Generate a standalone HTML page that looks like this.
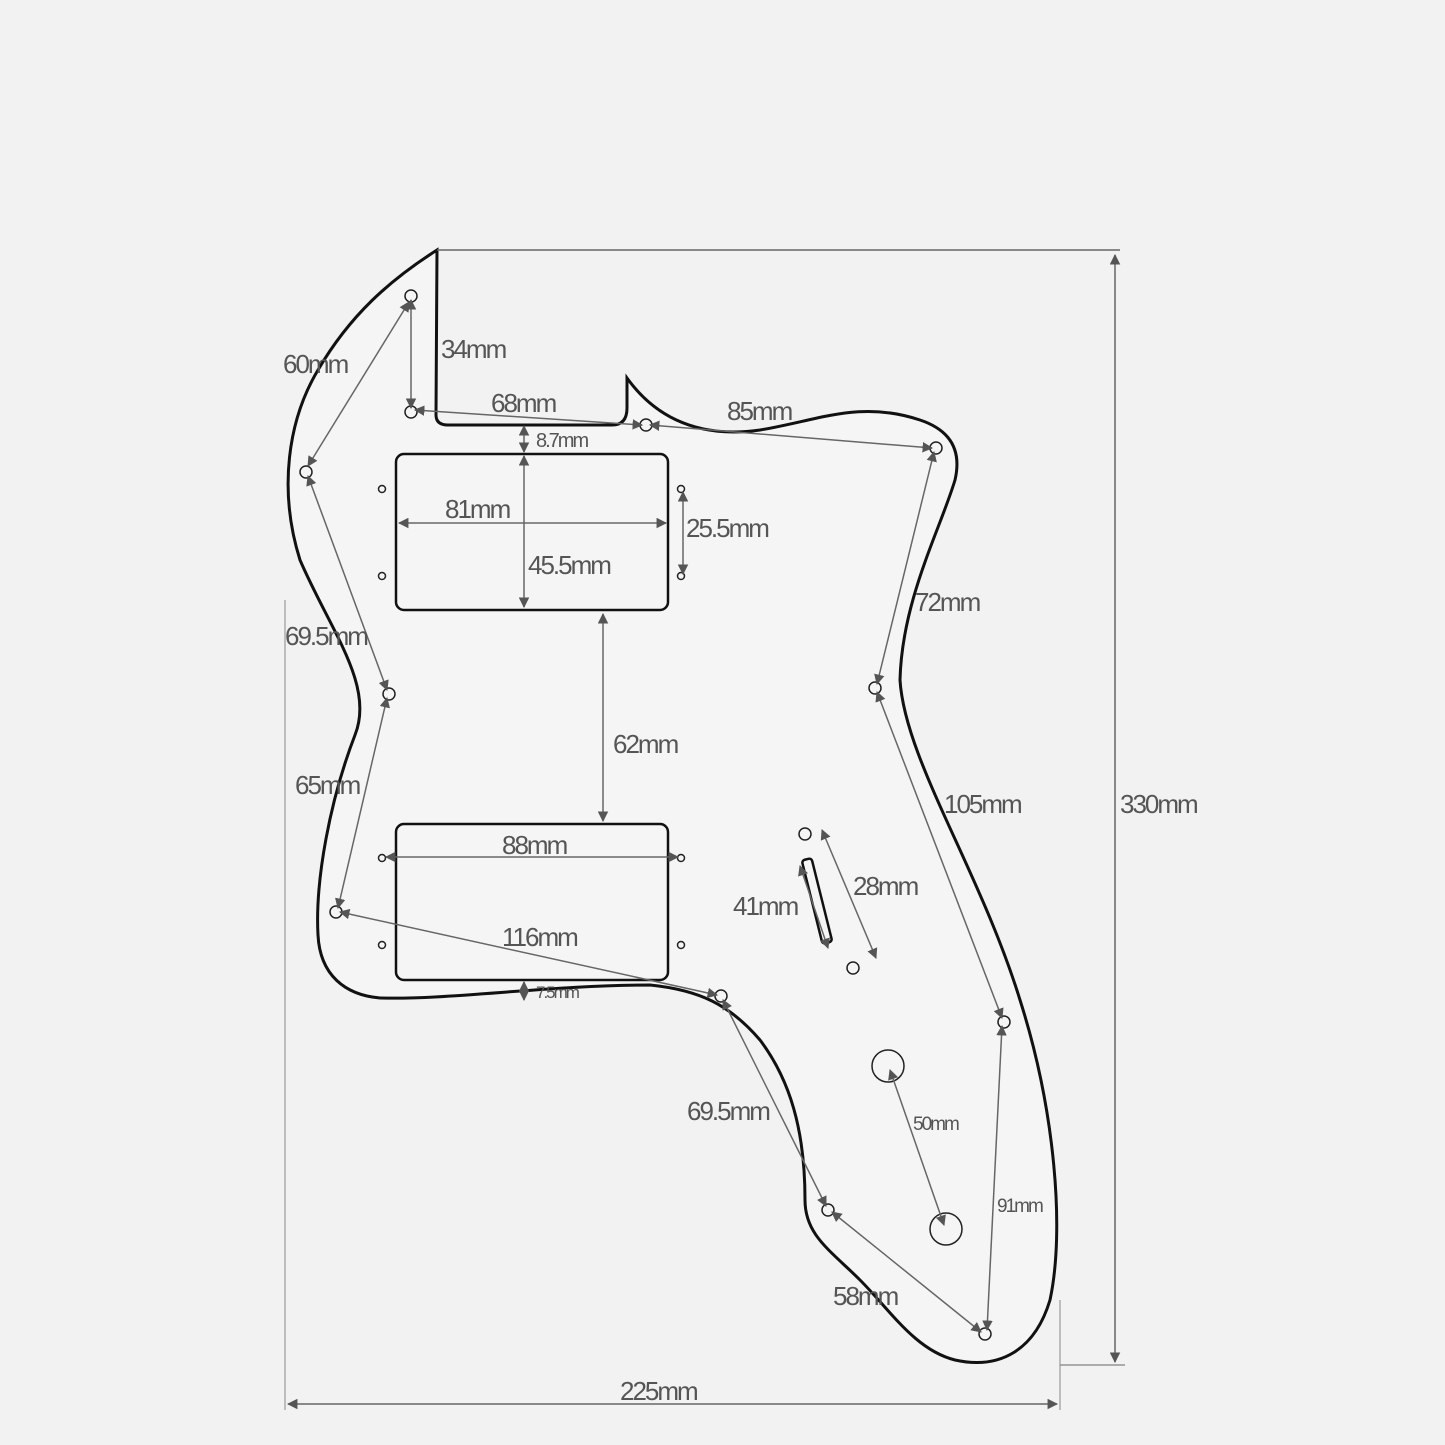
<!DOCTYPE html>
<html><head><meta charset="utf-8"><style>
html,body{margin:0;padding:0;background:#f2f2f2}
svg{display:block}
text{font-family:"Liberation Sans",sans-serif;fill:#555;letter-spacing:-2px}
</style></head><body>
<svg width="1445" height="1445" viewBox="0 0 1445 1445" xmlns="http://www.w3.org/2000/svg">
<defs>
<marker id="a" viewBox="0 0 10 10" refX="9" refY="5" markerWidth="7" markerHeight="7" orient="auto-start-reverse"><path d="M0,0L10,5L0,10z" fill="#555"/></marker>
</defs>
<rect width="1445" height="1445" fill="#f2f2f2"/>
<path d="M437,250 L436,415 Q436,425 448,425 L612,425 Q627,425 627,408 L627,378 C650,410 690,440 760,430 C820,420 860,400 920,420 C950,430 962,450 955,480 C940,530 902,600 900,680 C905,760 980,870 1020,1000 C1055,1110 1065,1230 1050,1300 C1035,1350 1000,1370 955,1360 C915,1350 890,1310 860,1280 C830,1250 805,1235 805,1200 C805,1130 790,1080 760,1040 C730,1005 700,990 650,985 C550,985 450,1000 380,998 C345,995 320,975 318,935 C315,880 330,800 355,735 C375,685 330,630 300,560 C278,490 288,420 318,370 C350,315 390,280 437,250 Z" fill="#f5f5f5" stroke="#111" stroke-width="3"/>
<line x1="437" y1="250" x2="1120" y2="250" stroke="#666" stroke-width="1.5"/>
<line x1="1060" y1="1365" x2="1125" y2="1365" stroke="#666" stroke-width="1"/>
<line x1="285" y1="600" x2="285" y2="1410" stroke="#888" stroke-width="1"/>
<line x1="1060" y1="1300" x2="1060" y2="1410" stroke="#888" stroke-width="1"/>
<g fill="none" stroke="#111" stroke-width="2.5">
<rect x="396" y="454" width="272" height="156" rx="8"/>
<rect x="396" y="824" width="272" height="156" rx="8"/>
<rect x="812" y="858" width="10" height="86" rx="3" transform="rotate(-14 817 901)"/>
</g>
<g fill="none" stroke="#222" stroke-width="1.5">
<circle cx="411" cy="296" r="6"/><circle cx="411" cy="412" r="6"/><circle cx="646" cy="425" r="6"/><circle cx="936" cy="448" r="6"/>
<circle cx="306" cy="472" r="6"/><circle cx="389" cy="694" r="6"/><circle cx="875" cy="688" r="6"/><circle cx="336" cy="912" r="6"/>
<circle cx="721" cy="996" r="6"/><circle cx="1004" cy="1022" r="6"/><circle cx="828" cy="1210" r="6"/><circle cx="985" cy="1334" r="6"/>
<circle cx="805" cy="834" r="6"/><circle cx="853" cy="968" r="6"/>
<circle cx="382" cy="489" r="3.5"/><circle cx="382" cy="576" r="3.5"/><circle cx="681" cy="489" r="3.5"/><circle cx="681" cy="576" r="3.5"/>
<circle cx="382" cy="858" r="3.5"/><circle cx="382" cy="945" r="3.5"/><circle cx="681" cy="858" r="3.5"/><circle cx="681" cy="945" r="3.5"/>
<circle cx="888" cy="1066" r="16"/><circle cx="946" cy="1229" r="16"/>
</g>
<g stroke="#666" stroke-width="1.5" marker-start="url(#a)" marker-end="url(#a)">
<line x1="1115" y1="255" x2="1115" y2="1362"/>
<line x1="288" y1="1404" x2="1057" y2="1404"/>
<line x1="411" y1="300" x2="411" y2="408"/>
<line x1="409" y1="302" x2="308" y2="466"/>
<line x1="415" y1="410" x2="642" y2="425"/>
<line x1="650" y1="425" x2="932" y2="448"/>
<line x1="524" y1="426" x2="524" y2="452"/>
<line x1="399" y1="523" x2="666" y2="523"/>
<line x1="524" y1="456" x2="524" y2="607"/>
<line x1="683" y1="492" x2="683" y2="574"/>
<line x1="934" y1="452" x2="877" y2="684"/>
<line x1="308" y1="476" x2="387" y2="690"/>
<line x1="387" y1="698" x2="338" y2="908"/>
<line x1="603" y1="614" x2="603" y2="821"/>
<line x1="386" y1="857" x2="678" y2="857"/>
<line x1="340" y1="912" x2="717" y2="995"/>
<line x1="524" y1="982" x2="524" y2="1000"/>
<line x1="877" y1="692" x2="1002" y2="1018"/>
<line x1="822" y1="830" x2="876" y2="958"/>
<line x1="800" y1="866" x2="828" y2="948"/>
<line x1="723" y1="1000" x2="826" y2="1206"/>
<line x1="832" y1="1212" x2="981" y2="1332"/>
<line x1="1002" y1="1026" x2="987" y2="1330"/>
<line x1="890" y1="1070" x2="944" y2="1225"/>
</g>
<g font-size="26">
<text x="283" y="373">60mm</text>
<text x="441" y="358">34mm</text>
<text x="491" y="412">68mm</text>
<text x="727" y="420">85mm</text>
<text x="536" y="447" font-size="20">8.7mm</text>
<text x="445" y="518">81mm</text>
<text x="686" y="537">25.5mm</text>
<text x="528" y="574">45.5mm</text>
<text x="915" y="611">72mm</text>
<text x="285" y="645">69.5mm</text>
<text x="613" y="753">62mm</text>
<text x="295" y="794">65mm</text>
<text x="944" y="813">105mm</text>
<text x="1120" y="813">330mm</text>
<text x="502" y="854">88mm</text>
<text x="853" y="895">28mm</text>
<text x="733" y="915">41mm</text>
<text x="502" y="946">116mm</text>
<text x="536" y="998" font-size="17">7.5mm</text>
<text x="687" y="1120">69.5mm</text>
<text x="913" y="1130" font-size="19">50mm</text>
<text x="997" y="1212" font-size="19">91mm</text>
<text x="833" y="1305">58mm</text>
<text x="620" y="1400">225mm</text>
</g>
</svg>
</body></html>
